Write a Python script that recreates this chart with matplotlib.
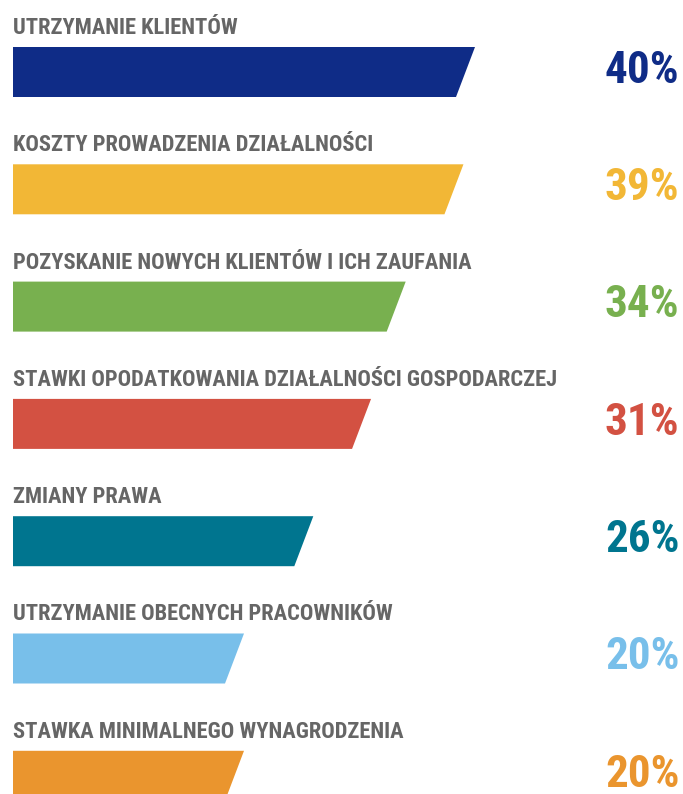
import matplotlib
matplotlib.use("Agg")
import matplotlib.pyplot as plt
from matplotlib.patches import Polygon

labels = [
    "UTRZYMANIE KLIENTÓW",
    "KOSZTY PROWADZENIA DZIAŁALNOŚCI",
    "POZYSKANIE NOWYCH KLIENTÓW I ICH ZAUFANIA",
    "STAWKI OPODATKOWANIA DZIAŁALNOŚCI GOSPODARCZEJ",
    "ZMIANY PRAWA",
    "UTRZYMANIE OBECNYCH PRACOWNIKÓW",
    "STAWKA MINIMALNEGO WYNAGRODZENIA",
]
values = [40, 39, 34, 31, 26, 20, 20]
colors = ["#0F2C87", "#F2B736", "#78B04F", "#D35142",
          "#00758F", "#78BFEA", "#EA952E"]

W, H = 683, 794
px_per_pct = 11.55
left_px = 13
row_px = 117.3
first_center = 72

fig = plt.figure(figsize=(W / 100, H / 100), dpi=100)
ax = fig.add_axes([0, 0, 1, 1])
ax.set_xlim(-left_px / px_per_pct, (W - left_px) / px_per_pct)
ax.set_ylim((H - first_center) / row_px, -first_center / row_px)
ax.axis("off")

fam = ["Roboto Condensed", "DejaVu Sans"]
bar_h = 50 / row_px
slant = 19 / px_per_pct

for i, (lab, v, c) in enumerate(zip(labels, values, colors)):
    top = i - bar_h / 2
    bot = i + bar_h / 2
    poly = Polygon([(0, top), (v, top), (v - slant, bot), (0, bot)],
                   closed=True, facecolor=c, edgecolor="none")
    ax.add_patch(poly)
    ax.text(0, i - 44 / row_px, lab, family=fam, fontweight="bold",
            fontsize=16.2, color="#666666", ha="left", va="center")
    ax.text(57.7, i - 0.01, "%d%%" % v, family=fam, fontweight="bold",
            fontsize=32.5, color=c, ha="right", va="center")

plt.savefig("out.png", dpi=100)
